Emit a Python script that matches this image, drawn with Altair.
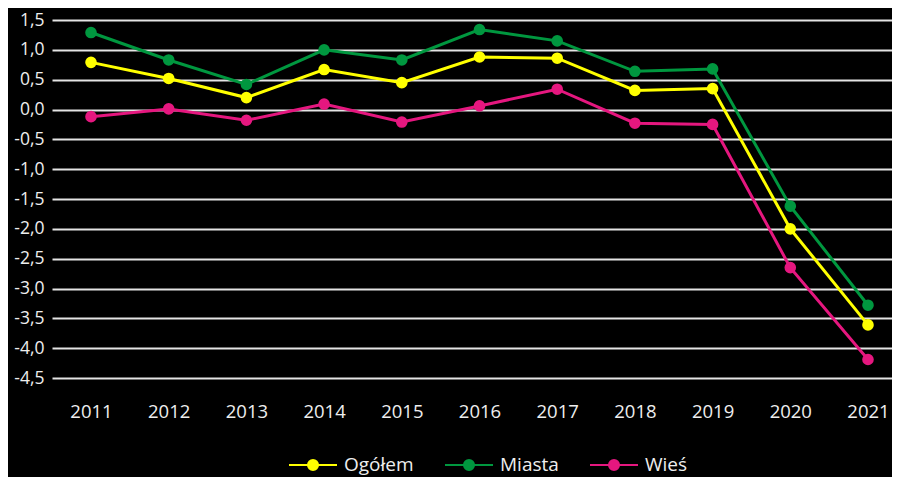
import altair as alt
import pandas as pd

years = [2011, 2012, 2013, 2014, 2015, 2016, 2017, 2018, 2019, 2020, 2021]
ogolem = [0.79, 0.52, 0.20, 0.67, 0.45, 0.88, 0.86, 0.32, 0.35, -2.00, -3.61]
miasta = [1.29, 0.83, 0.42, 1.00, 0.83, 1.34, 1.15, 0.64, 0.68, -1.62, -3.28]
wies = [-0.12, 0.01, -0.18, 0.09, -0.21, 0.06, 0.34, -0.23, -0.25, -2.65, -4.19]
series_names = ["Ogółem", "Miasta", "Wieś"]
series_colors = ["#ffff00", "#00973f", "#e5177f"]
y_ticks = [-4.5, -4.0, -3.5, -3.0, -2.5, -2.0, -1.5, -1.0, -0.5, 0.0, 0.5, 1.0, 1.5]

rows = []
for name, vals in zip(series_names, [ogolem, miasta, wies]):
    for yr, v in zip(years, vals):
        rows.append({"rok": yr, "wartosc": v, "seria": name, "ord": series_names.index(name)})
df = pd.DataFrame(rows)

FONT = "Open Sans"
legend_symbol = "M-1,0L1,0M0.21,0A0.21,0.21,0,1,1,-0.21,0A0.21,0.21,0,1,1,0.21,0Z"

x = alt.X("rok:Q", title=None,
          scale=alt.Scale(domain=[2010.498, 2021.309], nice=False, zero=False),
          axis=alt.Axis(values=years, format="d", labelAngle=0, domain=False, ticks=False,
                        tickSize=0, labelPadding=24, labelFontSize=18.5, labelColor="#eeeeee",
                        labelFont=FONT, grid=False, labelFlush=False))
y = alt.Y("wartosc:Q", title=None,
          scale=alt.Scale(domain=[-4.5, 1.5], nice=False, zero=False),
          axis=alt.Axis(values=y_ticks, domain=False, ticks=False, tickSize=0,
                        labelPadding=8, labelFontSize=17.5, labelColor="#eeeeee",
                        labelFont=FONT, grid=True, gridColor="#e4e4e4", gridWidth=2,
                        labelExpr="(datum.value < 0 ? '-' : '') + replace(format(abs(datum.value), '.1f'), '.', ',')"))
legend = alt.Legend(orient="none", direction="horizontal",
                    legendX=236, legendY=420, padding=0,
                    symbolType=legend_symbol, symbolSize=2304,
                    symbolStrokeWidth=2, symbolOffset=0,
                    labelFontSize=19, labelColor="#eeeeee", labelFont=FONT,
                    labelOffset=6, columnPadding=27)
color = alt.Color("seria:N", title=None,
                  scale=alt.Scale(domain=series_names, range=series_colors),
                  legend=legend)

base = alt.Chart(df).encode(x=x, y=y, color=color, order="ord:Q", detail="seria:N")
lines = base.mark_line(strokeWidth=3)
points = base.mark_point(filled=True, size=135, opacity=1)

chart = alt.layer(lines, points).properties(
    width=840, height=358,
    autosize=alt.AutoSizeParams(type="none"),
    padding={"left": 44, "top": 12, "right": 0, "bottom": 99},
    background="#000000",
).configure_view(stroke=None)

chart.save("out.html", embed_options={"renderer": "svg", "actions": False})
